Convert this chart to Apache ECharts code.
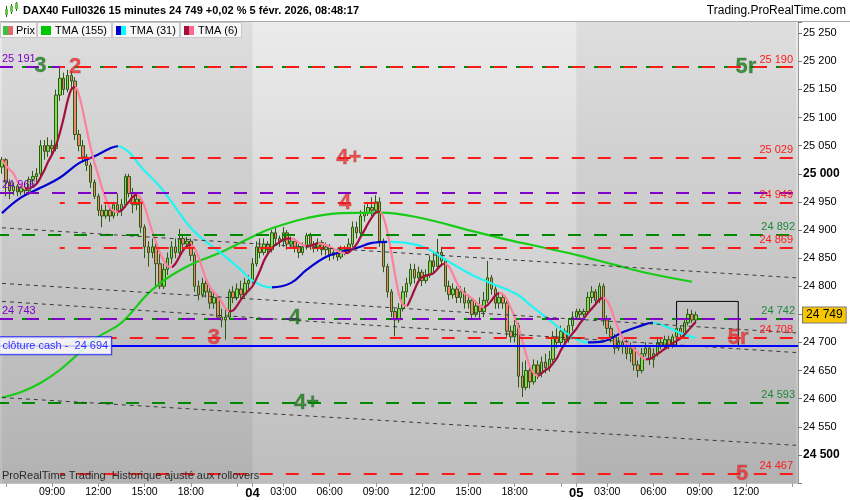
<!DOCTYPE html>
<html><head><meta charset="utf-8">
<script src="https://cdn.jsdelivr.net/npm/echarts@6/dist/echarts.min.js"></script>
<style>html,body{margin:0;padding:0;background:#fff}#c{width:850px;height:500px}</style>
</head><body><div id="c"></div>
<script>
// ---------- DATA ----------
const days = ['03', '04', '05'];
const sessions = [['05:45', '21:45'], ['01:00', '21:45'], ['01:00', '15:15']];
const labelTimes = [
  ['09:00', '12:00', '15:00', '18:00'],
  ['01:00', '03:00', '06:00', '09:00', '12:00', '15:00', '18:00'],
  ['01:00', '03:00', '06:00', '09:00', '12:00']
];
// [open, close, low, high]
const day3Bars = [
[25012,25025,25000,25030],[25025,24985,24960,25028],[24985,24970,24955,24990],[24970,24978,24962,24985],[24978,24968,24960,24982],
[24968,24975,24962,24982],[24975,24970,24960,24985],[24970,24990,24965,24995],[24990,24995,24978,25005],[24995,25000,24985,25010],
[25000,25050,24995,25060],[25050,25040,25025,25060],[25040,25050,25030,25065],[25050,25045,25035,25060],[25045,25140,25040,25150],
[25140,25170,25130,25190],[25170,25150,25140,25180],[25150,25175,25145,25185],[25175,25165,25150,25183],[25165,25070,25060,25172],
[25070,25050,25040,25078],[25050,25030,25020,25060],[25030,25015,25005,25035],[25015,24985,24975,25020],[24985,24960,24955,24990],
[24960,24935,24925,24965],[24935,24925,24905,24945],[24925,24935,24920,24945],[24935,24925,24915,24940],[24925,24945,24920,24950],
[24945,24935,24925,24965],[24935,24945,24925,24955],[24945,24995,24940,25000],[24995,24965,24958,25000],[24965,24945,24930,24975],
[24945,24955,24935,24965],[24955,24905,24895,24960],[24905,24870,24850,24910],[24870,24860,24835,24880],[24860,24870,24850,24885],
[24870,24840,24800,24880],[24840,24800,24795,24865],[24800,24830,24795,24840],[24830,24850,24820,24860],[24850,24870,24840,24880],
[24870,24860,24850,24885],[24860,24885,24855,24902],[24885,24875,24865,24890],[24875,24880,24868,24888],[24880,24855,24845,24885],
[24855,24800,24790,24860],[24800,24785,24775,24810],[24785,24805,24780,24815],[24805,24790,24780,24810],[24790,24770,24760,24800],
[24770,24780,24760,24790],[24780,24745,24740,24785],[24745,24740,24727,24760],[24740,24745,24705,24760],[24745,24790,24740,24795],
[24790,24780,24770,24800],[24780,24795,24775,24805],[24795,24785,24778,24810],[24785,24805,24780,24815],[24805,24810,24795,24820]
];
const day4Bars = [
[24810,24840,24805,24850],[24840,24870,24835,24880],[24870,24860,24850,24885],[24860,24875,24855,24885],[24875,24865,24855,24880],
[24865,24895,24860,24900],[24895,24885,24875,24905],[24885,24880,24870,24890],[24880,24895,24870,24905],[24895,24875,24865,24900],
[24875,24880,24868,24888],[24880,24870,24860,24885],[24870,24860,24850,24875],[24860,24870,24855,24878],[24870,24890,24865,24895],
[24890,24875,24865,24895],[24875,24870,24860,24880],[24870,24878,24862,24885],[24878,24865,24855,24882],[24865,24870,24855,24878],
[24870,24855,24845,24875],[24855,24860,24848,24868],[24860,24852,24845,24865],[24852,24865,24848,24872],[24865,24862,24855,24872],
[24862,24875,24858,24885],[24875,24905,24870,24915],[24905,24895,24885,24915],[24895,24925,24890,24935],[24925,24930,24915,24945],
[24930,24940,24925,24950],[24940,24935,24925,24958],[24935,24950,24930,24962],[24950,24880,24870,24958],[24880,24835,24825,24885],
[24835,24790,24780,24840],[24790,24755,24745,24795],[24755,24740,24711,24760],[24740,24760,24735,24770],[24760,24790,24755,24800],
[24790,24805,24780,24815],[24805,24830,24800,24840],[24830,24815,24805,24840],[24815,24825,24808,24835],[24825,24810,24800,24830],
[24810,24820,24805,24830],[24820,24845,24815,24855],[24845,24835,24825,24860],[24835,24860,24830,24884],[24860,24845,24835,24870],
[24845,24800,24790,24850],[24800,24785,24775,24810],[24785,24795,24778,24805],[24795,24780,24770,24800],[24780,24790,24770,24800],
[24790,24770,24760,24798],[24770,24775,24760,24785],[24775,24750,24740,24780],[24750,24765,24745,24775],[24765,24755,24740,24780],
[24755,24775,24745,24790],[24775,24815,24770,24845],[24815,24795,24785,24820],[24795,24770,24760,24800],[24770,24780,24760,24790],
[24780,24770,24760,24785],[24770,24720,24710,24775],[24720,24710,24700,24730],[24710,24730,24700,24740],[24730,24640,24620,24735],
[24640,24620,24603,24665],[24620,24650,24615,24668],[24650,24630,24618,24660],[24630,24660,24625,24670],[24660,24645,24635,24668],
[24645,24665,24638,24675],[24665,24655,24645,24680],[24655,24670,24648,24685],[24670,24710,24665,24720],[24710,24700,24690,24725],
[24700,24720,24695,24730],[24720,24705,24695,24725],[24705,24730,24700,24740],[24730,24745,24720,24755]
];
const day5Bars = [
[24745,24755,24740,24760],[24755,24750,24742,24760],[24750,24755,24745,24760],[24755,24780,24750,24790],[24780,24790,24770,24800],
[24790,24775,24765,24795],[24775,24800,24770,24806],[24800,24740,24730,24805],[24740,24725,24715,24748],[24725,24710,24700,24730],
[24710,24690,24680,24715],[24690,24700,24685,24710],[24700,24695,24680,24712],[24695,24680,24670,24705],[24680,24690,24665,24700],
[24690,24660,24650,24695],[24660,24650,24638,24668],[24650,24680,24645,24690],[24680,24690,24675,24700],[24690,24670,24660,24695],
[24670,24680,24655,24690],[24680,24700,24675,24710],[24700,24695,24688,24708],[24695,24705,24690,24712],[24705,24695,24688,24712],
[24695,24710,24690,24715],[24710,24725,24705,24732],[24725,24715,24705,24730],[24715,24735,24710,24740],[24735,24750,24730,24760],
[24750,24740,24735,24758],[24740,24749,24735,24755]
];
// moving averages: [bar index, value]
const tma155Points = [[0,24602],[5,24612],[10,24628],[15,24651],[21,24687],[25,24710],[31,24735],[39,24794],[48,24835],[57,24861],
[65,24888],[70,24903],[79,24921],[88,24930],[98,24931],[109,24921],[122,24898],[131,24883],[143,24865],[150,24854],[159,24838],[167,24824],[179,24808]];
const tma31Points = [[0,24930],[5,24958],[10,24975],[15,24993],[20,25019],[24,25031],[28,25045],[30,25049],[33,25038],[36,25013],
[41,24977],[44,24950],[48,24912],[51,24890],[57,24858],[62,24829],[65,24810],[70,24798],[75,24806],[79,24829],[84,24852],[88,24861],
[92,24868],[96,24877],[100,24879],[105,24877],[110,24868],[114,24852],[118,24835],[122,24820],[127,24805],[131,24794],[134,24784],
[137,24767],[142,24740],[147,24714],[152,24700],[156,24702],[161,24718],[165,24728],[169,24735],[173,24726],[177,24714],[180,24708]];
const tmaShortPeriod = 6;
// horizontal levels
const redLevels = [25190, 25029, 24949, 24869, 24708, 24467];
const redStartBar = 15;
const purpleLevels = [25191, 24966, 24743];
const greenLevels = [25191, 24892, 24742, 24593];
const greenLabelled = [24892, 24742, 24593];
const cashClose = 24694;
const lastPrice = 24749;
// dotted trend lines: [startBar, startPrice, endBar, endPrice]
const trendLines = [[0,24904,206,24815],[0,24805,206,24717],[0,24773,206,24682],[0,24602,206,24517]];
// box drawn on the chart: [barFrom, priceTop, barTo, priceBottom]
const boxZone = [175, 24773, 191, 24694];
// wave annotations: [bar, price, text, colour key]
const waveMarks = [[10,25191,'3','g'],[19,25190,'2','r'],[90,25029,'4+','r'],[89,24949,'4','r'],[76,24743,'4','g'],
[55,24708,'3','r'],[79,24593,'4+','g'],[193,25190,'5r','g'],[191,24708,'5r','r'],[192,24467,'5','r']];
const yMin = 24450, yMax = 25270, yStep = 50;

// ---------- BUILD ----------
const FONT = '"Liberation Sans", Arial, sans-serif';
const cats = [];
const labelSet = new Set(), tickSet = new Set();
days.forEach((d, k) => {
  const [s, e] = sessions[k];
  let m = +s.slice(0,2)*60 + +s.slice(3), me = +e.slice(0,2)*60 + +e.slice(3);
  for (; m <= me; m += 15) {
    const hh = String(Math.floor(m/60)).padStart(2,'0'), mm = String(m%60).padStart(2,'0');
    const c = d + ' ' + hh + ':' + mm;
    cats.push(c);
    if (labelTimes[k].includes(hh+':'+mm)) labelSet.add(c);
    if (mm === '00' && (+hh % 3 === 0 || hh === '01')) tickSet.add(c);
  }
});
const bars = day3Bars.concat(day4Bars, day5Bars);
const closes = bars.map(b => b[1]);
function sma(arr, n) { return arr.map((_, i) => { const a = arr.slice(Math.max(0, i-n+1), i+1); return a.reduce((s,v)=>s+v,0)/a.length; }); }
const h = tmaShortPeriod/2;
const tma6 = sma(sma(closes, h), h+1).map((v, i) => [i, +v.toFixed(1)]);
const fmt = v => String(v).replace(/\B(?=(\d{3})+(?!\d))/g, ' ');

function slopePieces(pts, up, down) {
  const pieces = [];
  for (let k = 1; k < pts.length; k++) {
    const c = pts[k][1] >= pts[k-1][1] ? up : down;
    const last = pieces[pieces.length-1];
    if (last && last.color === c) last.lte = pts[k][0];
    else pieces.push({gt: pts[k-1][0], lte: pts[k][0], color: c});
  }
  pieces[0].gt = pieces[0].gt - 1;
  pieces[pieces.length-1].lte += 1;
  return pieces;
}

const RED = '#ff1a1a', PURPLE = '#8000c8', GREEN = '#008a00';
const dash = [13, 13];
const levelLines = [];
greenLevels.forEach(v => levelLines.push({yAxis: v, lineStyle: {color: GREEN, type: dash, width: 2, dashOffset: 4},
  label: greenLabelled.includes(v) ? {show: true, position: 'insideEndTop', formatter: fmt(v), color: '#1a8a3a', fontSize: 11, fontFamily: FONT, distance: [3, 2]} : {show: false}}));
purpleLevels.forEach(v => levelLines.push({yAxis: v, lineStyle: {color: PURPLE, type: dash, width: 2},
  label: {show: true, position: 'insideStartTop', formatter: fmt(v), color: PURPLE, fontSize: 11, fontFamily: FONT, distance: [2, 2]}}));
redLevels.forEach(v => levelLines.push([{coord: [redStartBar, v], lineStyle: {color: RED, type: dash, width: 2, dashOffset: 8},
  label: {show: true, position: 'insideEndTop', formatter: fmt(v), color: RED, fontSize: 11, fontFamily: FONT, distance: [3, 2]}}, {coord: [cats.length-1, v]}]));
trendLines.forEach(t => levelLines.push([{coord: [t[0], t[1]], lineStyle: {color: '#3a3a3a', type: [4, 4], width: 1}, label: {show: false}}, {coord: [t[2], t[3]]}]));
levelLines.push({yAxis: cashClose, lineStyle: {color: '#0000ff', type: 'solid', width: 2}, label: {show: false}});

const markData = waveMarks.map(w => ({value: [w[0], w[1]], label: {formatter: w[2], color: w[3] === 'g' ? '#157a15' : '#ee2a2a'}}));
const cashLabel = [{value: [0, cashClose], label: {show: true, position: 'right', distance: 0, offset: [-3, 0], formatter: 'clôture cash -  ' + fmt(cashClose),
  color: '#0000ff', backgroundColor: '#fff', borderColor: '#0000ff', borderWidth: 1, padding: [3, 3, 3, 3], fontSize: 11, fontFamily: FONT}}];

const grad = new echarts.graphic.LinearGradient(0, 0, 0, 1, [{offset: 0, color: '#ebebeb'}, {offset: 1, color: '#bdbdbd'}]);

const option = {
  animation: false,
  backgroundColor: '#fff',
  grid: {left: 0, right: 52, top: 22, bottom: 17, show: true, backgroundColor: grad, borderWidth: 0},
  xAxis: {
    type: 'category', data: cats, boundaryGap: true,
    axisLine: {show: true, lineStyle: {color: '#c4c4c4'}},
    axisTick: {show: true, alignWithLabel: true, length: 4, interval: (i, v) => tickSet.has(v), lineStyle: {color: '#999'}},
    axisLabel: {interval: (i, v) => labelSet.has(v), fontSize: 10.5, color: '#000', margin: 4, fontFamily: FONT,
      formatter: v => { const p = v.split(' '); return p[1] === '01:00' ? '{d|' + p[0] + '}' : p[1]; },
      rich: {d: {fontWeight: 'bold', fontSize: 13, fontFamily: FONT, color: '#000'}}},
    splitLine: {show: false}
  },
  yAxis: {
    type: 'value', position: 'right', min: yMin, max: yMax, interval: yStep, scale: true,
    axisLine: {show: true, lineStyle: {color: '#999'}},
    axisTick: {show: true, length: 4, lineStyle: {color: '#777'}},
    axisLabel: {fontSize: 11, color: '#000', margin: 5, fontFamily: FONT, showMinLabel: true, showMaxLabel: true,
      formatter: v => (v % yStep !== 0 || v <= yMin || v > 25250) ? '' : (v % 500 === 0 ? '{b|' + fmt(v) + '}' : fmt(v)),
      rich: {b: {fontWeight: 'bold', fontSize: 12, fontFamily: FONT, color: '#000'}}},
    splitLine: {show: false}
  },
  visualMap: [
    {show: false, type: 'piecewise', seriesIndex: 2, dimension: 0, pieces: slopePieces(tma31Points, '#0000d0', '#22f4f4')},
    {show: false, type: 'piecewise', seriesIndex: 3, dimension: 0, pieces: slopePieces(tma6, '#a3103f', '#ff7f9e')}
  ],
  series: [
    {type: 'candlestick', name: 'Prix', data: bars, barWidth: 3, z: 2,
      itemStyle: {color: '#84dc58', color0: '#f0866f', borderColor: '#2c5a10', borderColor0: '#2c5a10', borderWidth: 1},
      markArea: {silent: true, itemStyle: {color: 'rgba(0,0,0,0.055)'},
        data: [[{xAxis: cats[0]}, {xAxis: cats[day3Bars.length]}], [{xAxis: cats[day3Bars.length + day4Bars.length]}, {xAxis: cats[cats.length - 1]}]]}},
    {type: 'line', name: 'TMA (155)', data: tma155Points, smooth: 0.4, showSymbol: false, z: 4,
      lineStyle: {color: '#18cc18', width: 2.2},
      markLine: {silent: true, symbol: ['none', 'none'], animation: false, data: levelLines},
      markArea: {silent: true, itemStyle: {color: 'rgba(0,0,0,0)', borderColor: '#000', borderWidth: 1},
        data: [[{coord: [boxZone[0], boxZone[1]]}, {coord: [boxZone[2], boxZone[3]]}]]}},
    {type: 'line', name: 'TMA (31)', data: tma31Points, smooth: 0.4, showSymbol: false, z: 4, lineStyle: {width: 2.2}},
    {type: 'line', name: 'TMA (6)', data: tma6, smooth: 0.3, showSymbol: false, z: 4, lineStyle: {width: 2.2}},
    {type: 'scatter', name: 'waves', data: markData, symbolSize: 1, itemStyle: {color: 'rgba(0,0,0,0)'}, z: 6, silent: true,
      label: {show: true, position: 'inside', fontSize: 22, fontWeight: 'bold', fontFamily: FONT,
        textBorderColor: 'rgba(0,0,0,0.25)', textBorderWidth: 0.8}},
    {type: 'scatter', name: 'cash', data: cashLabel, symbolSize: 1, itemStyle: {color: 'rgba(0,0,0,0)'}, z: 7, silent: true},
    {type: 'line', name: 'last', data: [], z: 8, silent: true,
      markLine: {silent: true, symbol: ['none', 'none'], animation: false,
        data: [{yAxis: lastPrice, lineStyle: {color: 'rgba(0,0,0,0)', width: 0},
          label: {show: true, position: 'end', formatter: fmt(lastPrice), color: '#000', backgroundColor: '#f7c600',
            borderColor: '#7a7a7a', borderWidth: 1, padding: [2, 3, 1, 3], fontSize: 12, fontFamily: FONT, distance: 5}}]}}
  ],
  graphic: [
    {type: 'rect', shape: {x: 0, y: 0, width: 850, height: 21}, style: {fill: '#fff'}, z: 100},
    {type: 'line', shape: {x1: 0, y1: 21.5, x2: 850, y2: 21.5}, style: {stroke: '#a8a8a8', lineWidth: 1}, z: 100},
    {type: 'line', shape: {x1: 6.5, y1: 6, x2: 6.5, y2: 17}, style: {stroke: '#2c5a10', lineWidth: 1}, z: 101},
    {type: 'rect', shape: {x: 5, y: 9, width: 3, height: 6}, style: {fill: '#6bc24a'}, z: 102},
    {type: 'line', shape: {x1: 11.5, y1: 4, x2: 11.5, y2: 14}, style: {stroke: '#2c5a10', lineWidth: 1}, z: 101},
    {type: 'rect', shape: {x: 10, y: 6, width: 3, height: 6}, style: {fill: '#6bc24a'}, z: 102},
    {type: 'line', shape: {x1: 16.5, y1: 2, x2: 16.5, y2: 11}, style: {stroke: '#2c5a10', lineWidth: 1}, z: 101},
    {type: 'rect', shape: {x: 15, y: 3, width: 3, height: 6}, style: {fill: '#6bc24a'}, z: 102},
    {type: 'text', x: 23, y: 11, z: 101, style: {text: 'DAX40 Full0326 15 minutes 24 749 +0,02 % 5 févr. 2026, 08:48:17', fontSize: 11, fontWeight: 'bold', fontFamily: FONT, fill: '#000', verticalAlign: 'middle', textVerticalAlign: 'middle'}},
    {type: 'text', x: 846, y: 11, z: 101, style: {text: 'Trading.ProRealTime.com', fontSize: 12, fontFamily: FONT, fill: '#000', align: 'right', textAlign: 'right', verticalAlign: 'middle', textVerticalAlign: 'middle'}},
    {type: 'rect', shape: {x: 0.5, y: 22.5, width: 36, height: 15}, style: {fill: '#f7f7f7', stroke: '#c8c8c8'}, z: 100},
    {type: 'rect', shape: {x: 37.5, y: 22.5, width: 74, height: 15}, style: {fill: '#f7f7f7', stroke: '#c8c8c8'}, z: 100},
    {type: 'rect', shape: {x: 112.5, y: 22.5, width: 67, height: 15}, style: {fill: '#f7f7f7', stroke: '#c8c8c8'}, z: 100},
    {type: 'rect', shape: {x: 180.5, y: 22.5, width: 61, height: 15}, style: {fill: '#f7f7f7', stroke: '#c8c8c8'}, z: 100},
    {type: 'rect', shape: {x: 3, y: 26, width: 5, height: 9}, style: {fill: '#3fbf3f'}, z: 101},
    {type: 'rect', shape: {x: 8, y: 26, width: 5, height: 9}, style: {fill: '#e06a6a'}, z: 101},
    {type: 'rect', shape: {x: 41, y: 26, width: 10, height: 9}, style: {fill: '#00c800'}, z: 101},
    {type: 'rect', shape: {x: 116, y: 26, width: 5, height: 9}, style: {fill: '#0000cc'}, z: 101},
    {type: 'rect', shape: {x: 121, y: 26, width: 5, height: 9}, style: {fill: '#00ffff'}, z: 101},
    {type: 'rect', shape: {x: 184, y: 26, width: 5, height: 9}, style: {fill: '#a0103c'}, z: 101},
    {type: 'rect', shape: {x: 189, y: 26, width: 5, height: 9}, style: {fill: '#ff6a8c'}, z: 101},
    {type: 'text', x: 16, y: 30.5, z: 101, style: {text: 'Prix', fontSize: 11, fontFamily: FONT, fill: '#000', verticalAlign: 'middle', textVerticalAlign: 'middle'}},
    {type: 'text', x: 55, y: 30.5, z: 101, style: {text: 'TMA (155)', fontSize: 11, fontFamily: FONT, fill: '#000', verticalAlign: 'middle', textVerticalAlign: 'middle'}},
    {type: 'text', x: 130, y: 30.5, z: 101, style: {text: 'TMA (31)', fontSize: 11, fontFamily: FONT, fill: '#000', verticalAlign: 'middle', textVerticalAlign: 'middle'}},
    {type: 'text', x: 198, y: 30.5, z: 101, style: {text: 'TMA (6)', fontSize: 11, fontFamily: FONT, fill: '#000', verticalAlign: 'middle', textVerticalAlign: 'middle'}},
    {type: 'text', x: 2, y: 476, z: 101, style: {text: 'ProRealTime Trading  Historique ajusté aux rollovers', fontSize: 11, fontFamily: FONT, fill: '#2a2a2a', verticalAlign: 'middle', textVerticalAlign: 'middle'}}
  ]
};
const chart = echarts.init(document.getElementById('c'), null, {renderer: 'canvas'});
chart.setOption(option);
</script></body></html>
